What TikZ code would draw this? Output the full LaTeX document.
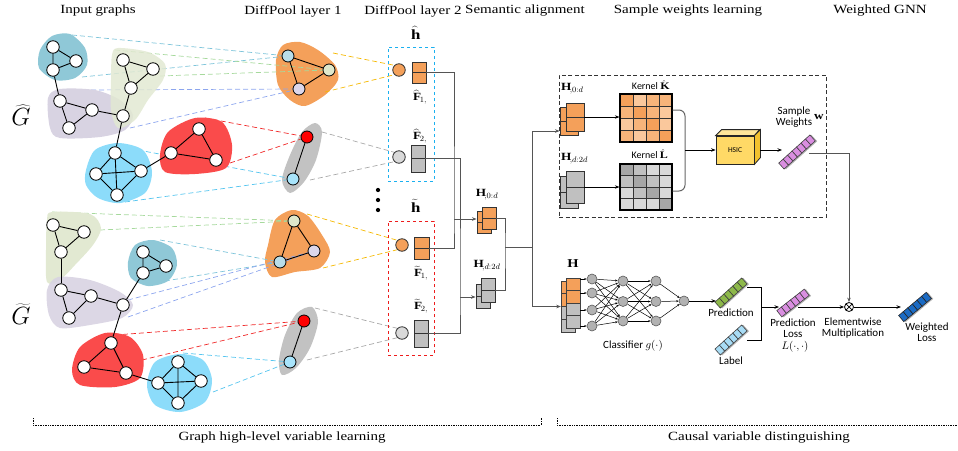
\documentclass[tikz,border=0pt]{standalone}
\usepackage{fontspec}
\setmainfont{Liberation Serif}[FakeStretch=1.2]
\newfontfamily\carl{Carlito}
\usetikzlibrary{arrows.meta}
\definecolor{bTeal}{HTML}{8FC8D7}
\definecolor{bGreen}{HTML}{E2E9D2}
\definecolor{bPurple}{HTML}{D8D3E2}
\definecolor{bBlue}{HTML}{8CDCFA}
\definecolor{bRed}{HTML}{FA4B4B}
\definecolor{bOrange}{HTML}{F4A05A}
\definecolor{bGrey}{HTML}{C2C2C2}
\definecolor{nTeal}{HTML}{B8DDE9}
\definecolor{nGreen}{HTML}{DFE8CC}
\definecolor{nLav}{HTML}{DCD7EA}
\definecolor{nBlue}{HTML}{A8E4FB}
\definecolor{nRed}{HTML}{FF0000}
\definecolor{dTeal}{HTML}{7EC4DA}
\definecolor{dGreen}{HTML}{A6D99C}
\definecolor{dPeri}{HTML}{8CA5EE}
\definecolor{dRed}{HTML}{F02828}
\definecolor{dBlue}{HTML}{55C5EF}
\definecolor{dYellow}{HTML}{F5B800}
\definecolor{dGrey}{HTML}{A8A8A8}
\definecolor{cellO}{HTML}{F4A05A}
\definecolor{cellG}{HTML}{C0C0C0}
\definecolor{circG}{HTML}{D9D9D9}
\definecolor{kk1}{HTML}{F4A05A}
\definecolor{kk2}{HTML}{F7B47A}
\definecolor{kk3}{HTML}{FAC89C}
\definecolor{kl1}{HTML}{A6A6A6}
\definecolor{kl2}{HTML}{C0C0C0}
\definecolor{kl3}{HTML}{D9D9D9}
\definecolor{hsicF}{HTML}{FFD966}
\definecolor{hsicT}{HTML}{FFE699}
\definecolor{hsicS}{HTML}{F2C12E}
\definecolor{wPurple}{HTML}{D98EE0}
\definecolor{wGreen}{HTML}{8DB84A}
\definecolor{wLight}{HTML}{A8DCF5}
\definecolor{wDark}{HTML}{1B6BC4}
\definecolor{boxBlue}{HTML}{1AB0F0}
\definecolor{boxRed}{HTML}{EE1C1C}
\definecolor{wire}{HTML}{555555}
\pgfdeclarelayer{lblob}
\pgfdeclarelayer{ldash}
\pgfdeclarelayer{lin}
\pgfsetlayers{lblob,ldash,lin,main}
\newcommand{\wbar}[6]{%
  \begin{scope}[shift={#1},rotate=#2]
    \pgfmathsetmacro{\halfL}{#3*#4/2}
    \fill[black!30] (-\halfL+1.2,-3) rectangle (\halfL+1.2,5.5);
    \foreach \i in {1,...,#3}{
      \filldraw[fill=#5,draw=#6,line width=0.6pt] ({-\halfL+(\i-1)*#4},-4) rectangle ++(#4,8);
    }
  \end{scope}}
\begin{document}
\begin{tikzpicture}[x=1pt,y=-1pt,
  gn/.style={circle,draw=black,line width=0.8pt,fill=white,minimum size=12.5pt,inner sep=0pt},
  pn/.style={gn,minimum size=12pt},
  ge/.style={line width=0.9pt},
  dl/.style={dash pattern=on 5pt off 3pt,line width=0.7pt},
  ttl/.style={font=\fontsize{12.5}{14}\selectfont},
  sl/.style={font=\carl\fontsize{11}{11}\selectfont,align=center,inner sep=0pt},
  ml/.style={font=\fontsize{11}{13}\selectfont,inner sep=0pt},
  arr/.style={-{Stealth[length=4.5pt,width=3.5pt]}},
  wirel/.style={draw=wire,line width=0.9pt},
  frect/.style={draw=black!80,line width=0.9pt,minimum width=14pt,inner sep=0pt,
     path picture={\draw[black!80,line width=0.8pt] (path picture bounding box.west) -- (path picture bounding box.east);}},
  nn/.style={circle,draw=black!65,fill=black!30,line width=0.6pt,minimum size=10pt,inner sep=0pt},
  nnl/.style={line width=0.5pt,-{Stealth[length=2.5pt,width=2pt]}},
  lcirc/.style={circle,draw=black!80,line width=0.8pt,minimum size=12.5pt,inner sep=0pt},
]
\useasboundingbox (0,0) rectangle (958,450);

% ---------- titles ----------
\node[ttl] (t1) at (98,11) {Input graphs};
\node[ttl] (t2) at (293,11) {DiffPool layer 1};
\node[ttl] (t3) at (413,11) {DiffPool layer 2};
\node[ttl] (t4) at (525,11) {Semantic alignment};
\node[ttl] (t5) at (688,11) {Sample weights learning};
\node[ttl] (t6) at (880,11) {Weighted GNN};

\node[anchor=base,inner sep=0pt] (Gh) at (21,125) {\fontsize{24}{26}\selectfont $\widehat{G}$};
\node[anchor=base,inner sep=0pt] (Gt) at (21,324) {\fontsize{24}{26}\selectfont $\widetilde{G}$};

% ---------- input graph nodes (top) ----------
\node[gn] (a1) at (53,47) {};
\node[gn] (a2) at (76,61) {};
\node[gn] (a3) at (53,70) {};
\node[gn] (b1) at (123,60) {};
\node[gn] (b2) at (153,69) {};
\node[gn] (b3) at (131,88) {};
\node[gn] (b4) at (123,116) {};
\node[gn] (c1) at (60,101) {};
\node[gn] (c2) at (92,110) {};
\node[gn] (c3) at (69,128) {};
\node[gn] (d1) at (115,153) {};
\node[gn] (d2) at (96,174) {};
\node[gn] (d3) at (141,171) {};
\node[gn] (d4) at (117,195) {};
\node[gn] (e1) at (199,129) {};
\node[gn] (e2) at (171,153) {};
\node[gn] (e3) at (216,160) {};
\draw[ge] (a1)--(a2)--(a3)--(a1);
\draw[ge] (a3)--(c1);
\draw[ge] (b1)--(b2)--(b3)--(b1);
\draw[ge] (b3)--(b4);
\draw[ge] (c1)--(c2)--(c3)--(c1);
\draw[ge] (c2)--(b4);
\draw[ge] (b4)--(d1);
\draw[ge] (d1)--(d2) (d1)--(d3) (d1)--(d4) (d2)--(d3) (d2)--(d4) (d3)--(d4);
\draw[ge] (d3)--(e2);
\draw[ge] (e1)--(e2)--(e3)--(e1);

% ---------- input graph nodes (bottom) ----------
\node[gn] (f1) at (53,225) {};
\node[gn] (f2) at (84,232) {};
\node[gn] (f3) at (61,252) {};
\node[gn] (g1) at (61,290) {};
\node[gn] (g2) at (91,296) {};
\node[gn] (g3) at (123,305) {};
\node[gn] (g4) at (69,318) {};
\node[gn] (h1) at (143,252) {};
\node[gn] (h2) at (166,266) {};
\node[gn] (h3) at (143,273) {};
\node[gn] (i1) at (111,343) {};
\node[gn] (i2) at (84,367) {};
\node[gn] (i3) at (126,373) {};
\node[gn] (k1) at (178,362) {};
\node[gn] (k2) at (158,383) {};
\node[gn] (k3) at (201,381) {};
\node[gn] (k4) at (178,403) {};
\draw[ge] (f1)--(f2)--(f3)--(f1);
\draw[ge] (f3)--(g1);
\draw[ge] (g1)--(g2)--(g4)--(g1);
\draw[ge] (g2)--(g3);
\draw[ge] (h1)--(h2)--(h3)--(h1);
\draw[ge] (h3)--(g3);
\draw[ge] (g3)--(i1);
\draw[ge] (i1)--(i2)--(i3)--(i1);
\draw[ge] (i3)--(k2);
\draw[ge] (k1)--(k2) (k1)--(k3) (k1)--(k4) (k2)--(k3) (k2)--(k4) (k3)--(k4);

% ---------- DiffPool layer 1 nodes ----------
\node[pn,fill=nTeal] (p1) at (288,56) {};
\node[pn,fill=nGreen] (p2) at (329,70) {};
\node[pn,fill=nLav] (p3) at (299,89) {};
\node[pn,fill=nRed] (q1) at (307,137) {};
\node[pn,fill=nBlue] (q2) at (293,179) {};
\node[pn,fill=nGreen] (r1) at (294,221) {};
\node[pn,fill=nLav] (r2) at (314,251) {};
\node[pn,fill=nTeal] (r3) at (280,262) {};
\node[pn,fill=nRed] (s1) at (304,321) {};
\node[pn,fill=nBlue] (s2) at (290,362) {};
\draw[ge] (p1)--(p2)--(p3)--(p1);
\draw[ge] (q1)--(q2);
\draw[ge] (r1)--(r2)--(r3)--(r1);
\draw[ge] (s1)--(s2);

% ---------- DiffPool layer 2 ----------
\node[draw=boxBlue,dashed,line width=1pt,minimum width=46pt,minimum height=134pt,inner sep=0pt] (hbox) at (411,114) {};
\node[draw=boxRed,dashed,line width=1pt,minimum width=46pt,minimum height=134pt,inner sep=0pt] (tbox) at (411,288) {};
\node (hhat) at (415,33) {\fontsize{14}{16}\selectfont $\widehat{\mathbf{h}}$};
\node (htil) at (415,206) {\fontsize{14}{16}\selectfont $\widetilde{\mathbf{h}}$};
\node[lcirc,fill=bOrange] (oc1) at (399,70) {};
\node[frect,fill=cellO,minimum height=21pt] (F1h) at (419,72.5) {};
\node[ml] (lF1h) at (420,97) {$\widehat{\mathbf{F}}_{1,}$};
\node[lcirc,fill=circG] (gc1) at (399,157) {};
\node[frect,fill=cellG,minimum height=27pt] (F2h) at (418,158.5) {};
\node[ml] (lF2h) at (420,136) {$\widehat{\mathbf{F}}_{2,}$};
\node[lcirc,fill=bOrange] (oc2) at (402,245) {};
\node[frect,fill=cellO,minimum width=15pt,minimum height=22pt] (F1t) at (421.5,248) {};
\node[ml] (lF1t) at (421,273) {$\widetilde{\mathbf{F}}_{1,}$};
\node[lcirc,fill=circG] (gc2) at (402,333) {};
\node[frect,fill=cellG,minimum height=27pt] (F2t) at (421,333.5) {};
\node[ml] (lF2t) at (421,306) {$\widetilde{\mathbf{F}}_{2,}$};
\node[circle,fill=black,inner sep=1.5pt] (dt1) at (378,190) {};
\node[circle,fill=black,inner sep=1.5pt] (dt2) at (378,200) {};
\node[circle,fill=black,inner sep=1.5pt] (dt3) at (378,210) {};

% ---------- blobs ----------
\begin{pgfonlayer}{lblob}
\fill[bOrange] plot[smooth cycle] coordinates {(276,60) (283,45) (300,42) (318,50) (335,65) (338,80) (325,95) (305,106) (290,100) (278,85)};
\fill[bGrey] plot[smooth cycle] coordinates {(282,180) (290,155) (302,132) (315,123) (322,132) (316,160) (304,182) (290,193)};
\fill[bOrange] plot[smooth cycle] coordinates {(268,245) (275,220) (292,210) (308,216) (322,235) (330,252) (320,268) (295,272) (272,277) (265,262)};
\fill[bGrey] plot[smooth cycle] coordinates {(279,360) (285,335) (297,313) (312,307) (318,322) (310,348) (296,368) (282,375)};
\end{pgfonlayer}
\begin{pgfonlayer}{lin}
\fill[bPurple] plot[smooth cycle] coordinates {(48,98) (60,89) (95,90) (120,100) (133,115) (125,130) (100,137) (60,138) (50,128)};
\fill[bGreen,opacity=0.85] plot[smooth cycle] coordinates {(112,55) (118,48) (148,52) (165,64) (163,80) (148,100) (135,120) (118,128) (111,110) (111,80)};
\fill[bTeal] plot[smooth cycle] coordinates {(40,50) (52,36) (70,34) (85,48) (87,65) (75,78) (55,80) (39,68)};
\fill[bBlue] plot[smooth cycle] coordinates {(86,170) (95,150) (118,143) (143,150) (152,172) (145,193) (120,203) (98,198) (86,185)};
\fill[bRed] plot[smooth cycle] coordinates {(160,155) (168,132) (195,118) (222,122) (232,145) (226,168) (195,174) (165,172)};
\fill[bGreen] plot[smooth cycle] coordinates {(47,220) (52,212) (90,214) (101,228) (93,245) (75,265) (60,280) (47,282) (46,250)};
\fill[bPurple,opacity=0.9] plot[smooth cycle] coordinates {(47,290) (58,277) (90,280) (120,292) (133,305) (122,318) (90,325) (60,328) (49,315)};
\fill[bTeal] plot[smooth cycle] coordinates {(128,262) (135,245) (153,240) (172,248) (177,265) (168,281) (148,286) (131,278)};
\fill[bRed] plot[smooth cycle] coordinates {(72,370) (80,347) (105,333) (130,337) (143,355) (140,378) (115,387) (80,385)};
\fill[bBlue] plot[smooth cycle] coordinates {(147,385) (155,362) (180,354) (203,360) (212,380) (205,402) (180,412) (155,405)};
\end{pgfonlayer}

% ---------- dashed mapping lines ----------
\coordinate (u1) at (72,35);   \coordinate (u2) at (82,77);
\coordinate (u3) at (115,50);  \coordinate (u4) at (160,76);
\coordinate (u5) at (83,90);   \coordinate (u6) at (130,128);
\coordinate (u7) at (205,118); \coordinate (u8) at (230,163);
\coordinate (u9) at (138,150); \coordinate (u10) at (125,202);
\coordinate (v1) at (52,212);  \coordinate (v2) at (100,230);
\coordinate (v3) at (160,240); \coordinate (v4) at (165,281);
\coordinate (v5) at (128,300); \coordinate (v6) at (128,317);
\coordinate (v7) at (115,335); \coordinate (v8) at (142,360);
\coordinate (v9) at (183,353); \coordinate (v10) at (213,392);
\coordinate (w1) at (333,53);  \coordinate (w2) at (325,92);
\coordinate (w3) at (322,132); \coordinate (w4) at (310,180);
\coordinate (w5) at (307,214); \coordinate (w6) at (323,268);
\coordinate (w7) at (315,308); \coordinate (w8) at (307,360);
\begin{pgfonlayer}{ldash}
\draw[dl,dTeal] (u1)--(p1) (u2)--(p1);
\draw[dl,dGreen] (u3)--(p2) (u4)--(p2);
\draw[dl,dPeri] (u5)--(p3) (u6)--(p3);
\draw[dl,dRed] (u7)--(q1) (u8)--(q1);
\draw[dl,dBlue] (u9)--(q2) (u10)--(q2);
\draw[dl,dGreen] (v1)--(r1) (v2)--(r1);
\draw[dl,dTeal] (v3)--(r3) (v4)--(r3);
\draw[dl,dPeri] (v5)--(r2) (v6)--(r2);
\draw[dl,dRed] (v7)--(s1) (v8)--(s1);
\draw[dl,dBlue] (v9)--(s2) (v10)--(s2);
\draw[dl,dYellow] (w1)--(oc1.135) (w2)--(oc1.225);
\draw[dl,dGrey] (w3)--(gc1.135) (w4)--(gc1.225);
\draw[dl,dYellow] (w5)--(oc2.135) (w6)--(oc2.225);
\draw[dl,dGrey] (w7)--(gc2.135) (w8)--(gc2.225);
\end{pgfonlayer}

% ---------- semantic alignment ----------
\node[frect,fill=cellO,minimum height=22pt] (Hab) at (484,222) {};
\node[frect,fill=cellO,minimum height=22pt] (Haf) at (489,218) {};
\node[frect,fill=cellG,minimum height=24pt] (Hbb) at (483,296) {};
\node[frect,fill=cellG,minimum height=24pt] (Hbf) at (488,290) {};
\node[ml] (lHa) at (487,195) {$\mathbf{H}_{,0:d}$};
\node[ml] (lHb) at (487,266) {$\mathbf{H}_{,d:2d}$};
\coordinate (j1) at (454,219);
\coordinate (j2) at (460,297);
\coordinate (j3) at (505,247);
\coordinate (j4) at (532,247);
\draw[wirel] (F1h.east) -| (j1) |- (F1t.east);
\draw[wirel] (F2h.east) -| (j2) |- (F2t.east);
\draw[wirel,arr] (j1) -- (Hab.west |- j1);
\draw[wirel,arr] (j2) -- (Hbb.west |- j2);
\draw[wirel] (Haf.east) -| (j3) |- (Hbf.east);
\draw[wirel] (j3) -- (j4);

% ---------- sample weights learning ----------
\node[draw=black!80,dash pattern=on 4pt off 2.5pt,line width=0.9pt,minimum width=267pt,minimum height=142pt,inner sep=0pt] (swbox) at (692.5,146) {};
\node[frect,fill=cellO,minimum width=18pt,minimum height=28pt] (Sab) at (569,121) {};
\node[frect,fill=cellO,minimum width=18pt,minimum height=28pt] (Saf) at (575,117) {};
\node[frect,fill=cellG,minimum width=18pt,minimum height=32pt] (Sbb) at (569,192) {};
\node[frect,fill=cellG,minimum width=18pt,minimum height=32pt] (Sbf) at (575,187) {};
\node[ml,anchor=west] (lSa) at (561,89) {$\mathbf{H}_{,0:d}$};
\node[ml,anchor=west] (lSb) at (561,159) {$\mathbf{H}_{,d:2d}$};
\draw[wirel,arr] (j4) |- ([yshift=-10pt]Sab.west);

\foreach \c [count=\i from 0] in {1,3,2,2, 2,1,2,3, 3,2,1,3, 2,3,2,1} {
  \pgfmathtruncatemacro{\cx}{mod(\i,4)}
  \pgfmathtruncatemacro{\cy}{floor(\i/4)}
  \filldraw[fill=kk\c,draw=black!80,line width=0.6pt] (620+\cx*13,94+\cy*12) rectangle ++(13,12);
}
\foreach \c [count=\i from 0] in {1,2,3,3, 2,1,2,3, 3,2,1,3, 3,3,3,1} {
  \pgfmathtruncatemacro{\cx}{mod(\i,4)}
  \pgfmathtruncatemacro{\cy}{floor(\i/4)}
  \filldraw[fill=kl\c,draw=black!80,line width=0.6pt] (620+\cx*13,164+\cy*11.5) rectangle ++(13,11.5);
}
\node[draw=black,line width=1.2pt,minimum width=52pt,minimum height=48pt,inner sep=0pt] (K) at (646,118) {};
\node[draw=black,line width=1.2pt,minimum width=52pt,minimum height=46pt,inner sep=0pt] (L) at (646,187) {};
\node[sl,font=\carl\fontsize{10}{10}\selectfont] (lK) at (650,85) {Kernel $\hat{\mathbf{K}}$};
\node[sl,font=\carl\fontsize{10}{10}\selectfont] (lL) at (649,154) {Kernel $\hat{\mathbf{L}}$};
\draw[arr,line width=0.8pt] (Saf.east) -- (K.west |- Saf.east);
\draw[arr,line width=0.8pt] (Sbf.east) -- (L.west |- Sbf.east);
\coordinate (kb) at (685,150);
\draw[draw=black!60,line width=1pt,rounded corners=6pt] ([yshift=8pt]K.east) -| (kb) |- ([yshift=-4pt]L.east);

\node[draw=black!85,fill=hsicF,line width=0.8pt,minimum width=38pt,minimum height=28pt,inner sep=0pt,font=\carl\fontsize{7.5}{8}\selectfont] (hsic) at (735,150) {HSIC};
\filldraw[fill=hsicT,draw=black!85,line width=0.8pt] (hsic.north west) -- ++(6,-6) -- ++(38,0) -- (hsic.north east) -- cycle;
\filldraw[fill=hsicS,draw=black!85,line width=0.8pt] (hsic.north east) -- ++(6,-6) -- ++(0,28) -- (hsic.south east) -- cycle;
\draw[arr,line width=0.8pt] (kb) -- (hsic.west);
\coordinate (swL) at (782,150);
\draw[arr,line width=0.8pt] ([xshift=6pt]hsic.east) -- (swL);
\wbar{(797,152)}{42}{7}{6}{wPurple}{black!75}
\node[sl] (lsw) at (794,117) {Sample\\Weights};
\node[ml] (lw) at (818,117) {$\mathbf{w}$};

% ---------- classifier ----------
\foreach \k/\cc in {0/cellO,1/cellO,2/cellG,3/cellG}
  \filldraw[fill=\cc,draw=black!75,line width=0.7pt] (561,281+\k*12.75) rectangle ++(14,12.75);
\node[inner sep=0pt,minimum width=14pt,minimum height=51pt] (Cb) at (568,306.5) {};
\foreach \k/\cc in {0/cellO,1/cellO,2/cellG,3/cellG}
  \filldraw[fill=\cc,draw=black!75,line width=0.7pt] (566,278+\k*12.5) rectangle ++(14,12.5);
\node[inner sep=0pt,minimum width=14pt,minimum height=50pt] (Cf) at (573,303) {};
\node[font=\fontsize{12}{14}\selectfont] (lH) at (572,264) {$\mathbf{H}$};
\draw[wirel,arr] (j4) |- (Cb.west);

\foreach \y [count=\i] in {279,293,310,326} \node[nn] (n\i) at (592,\y) {};
\foreach \y [count=\i] in {281,301.5,321} \node[nn] (m\i) at (623,\y) {};
\foreach \y [count=\i] in {281,301.5,321} \node[nn] (o\i) at (656,\y) {};
\node[nn] (out) at (684,301) {};
\foreach \i in {1,...,4} \foreach \j in {1,2,3} \draw[nnl] (n\i) -- (m\j);
\foreach \i in {1,2,3} \foreach \j in {1,2,3} \draw[nnl] (m\i) -- (o\j);
\foreach \i in {1,2,3} \draw[nnl] (o\i) -- (out);
\foreach \i in {1,...,4} \draw[nnl] (Cf.east |- n\i) -- (n\i);
\node[sl] (lcl) at (633,346) {Classifier $g(\cdot)$};
\coordinate (prL) at (716,301);
\draw[arr,line width=0.8pt] (out) -- (prL);

\wbar{(731,293)}{42}{6}{6}{wGreen}{black!75}
\wbar{(731,340)}{42}{6}{6}{wLight}{black!75}
\node[sl] (lpr) at (731,313) {Prediction};
\node[sl] (llb) at (731,361) {Label};
\coordinate (prR) at (747,287);
\coordinate (bj) at (761,307);
\coordinate (lbR) at (747,340);
\draw[line width=0.9pt] (prR) -| (bj) |- (lbR);
\coordinate (plL) at (779,307);
\draw[arr,line width=0.8pt] (bj) -- (plL);
\wbar{(793,303)}{38}{6}{5.8}{wPurple}{black!75}
\node[sl] (lpl) at (793,328) {Prediction\\Loss};
\node[ml] (lLf) at (795,347) {$L(\cdot,\cdot)$};
\node[circle,draw,line width=0.8pt,minimum size=9pt,inner sep=0pt,
  path picture={\draw[line width=0.7pt] (path picture bounding box.north west)--(path picture bounding box.south east) (path picture bounding box.south west)--(path picture bounding box.north east);}] (ot) at (849,307) {};
\coordinate (plR) at (798,307);
\draw[arr,line width=0.8pt] (plR) -- (ot.west);
\coordinate (swR) at (809,153);
\draw[wirel,arr] (swR) -| (ot.north);
\node[sl] (lem) at (853,328) {Elementwise\\Multiplication};
\coordinate (wlL) at (901,307);
\draw[arr,line width=0.8pt] (ot.east) -- (wlL);
\wbar{(915,307)}{40}{6}{6}{wDark}{black!85}
\node[sl] (lwl) at (927,332) {Weighted\\Loss};

% ---------- bottom brackets ----------
\draw[densely dotted,line width=0.7pt] (33,418) -- (33,425) -- (541,425) -- (541,418);
\node[ttl] (bl1) at (282,438) {Graph high-level variable learning};
\draw[densely dotted,line width=0.7pt] (557,418) -- (557,425) -- (958,425);
\node[ttl] (bl2) at (759,438) {Causal variable distinguishing};
\end{tikzpicture}
\end{document}
